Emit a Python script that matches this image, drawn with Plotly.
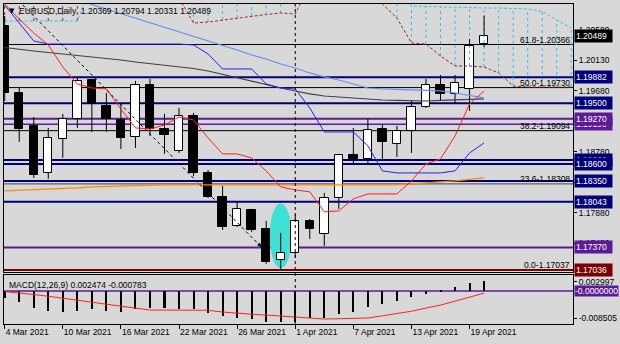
import plotly.graph_objects as go

# ---------------- data ----------------
dates = ["4 Mar 2021", "5 Mar 2021", "8 Mar 2021", "9 Mar 2021", "10 Mar 2021", "11 Mar 2021",
         "12 Mar 2021", "15 Mar 2021", "16 Mar 2021", "17 Mar 2021", "18 Mar 2021", "19 Mar 2021",
         "22 Mar 2021", "23 Mar 2021", "24 Mar 2021", "25 Mar 2021", "26 Mar 2021", "29 Mar 2021",
         "30 Mar 2021", "31 Mar 2021", "1 Apr 2021", "2 Apr 2021", "5 Apr 2021", "6 Apr 2021",
         "7 Apr 2021", "8 Apr 2021", "9 Apr 2021", "12 Apr 2021", "13 Apr 2021", "14 Apr 2021",
         "15 Apr 2021", "16 Apr 2021", "19 Apr 2021", "20 Apr 2021"]

opens = [1.20639, 1.19650, 1.19164, 1.18470, 1.18972, 1.19267, 1.19842, 1.19459, 1.19252, 1.19001,
         1.19769, 1.19119, 1.18795, 1.19311, 1.18470, 1.18116, 1.17688, 1.17924, 1.17644, 1.17187,
         1.17290, 1.17762, 1.17570, 1.18101, 1.18736, 1.18677, 1.19119, 1.18898, 1.19090, 1.19444,
         1.19769, 1.19636, 1.19710, 1.20369]
highs = [1.20787, 1.19724, 1.19296, 1.19134, 1.19341, 1.19872, 1.19857, 1.19650, 1.19488, 1.19828,
         1.19857, 1.19341, 1.19429, 1.19355, 1.18514, 1.18278, 1.18042, 1.17939, 1.17762, 1.17585,
         1.17851, 1.17791, 1.18175, 1.18751, 1.19134, 1.19267, 1.19178, 1.19164, 1.19547, 1.19857,
         1.19916, 1.19916, 1.20447, 1.20794]
lows = [1.19532, 1.18928, 1.18396, 1.18382, 1.18692, 1.19134, 1.19075, 1.19075, 1.18824, 1.18839,
        1.19016, 1.18751, 1.18765, 1.18426, 1.18101, 1.17629, 1.17673, 1.17600, 1.17127, 1.17037,
        1.17216, 1.17496, 1.17393, 1.17939, 1.18603, 1.18618, 1.18677, 1.18706, 1.18765, 1.19429,
        1.19532, 1.19503, 1.19385, 1.20331]
closes = [1.19650, 1.19119, 1.18441, 1.18987, 1.19267, 1.19828, 1.19488, 1.19267, 1.18987, 1.19769,
          1.19119, 1.19031, 1.19311, 1.18470, 1.18116, 1.17673, 1.17939, 1.17629, 1.17157, 1.17290,
          1.17762, 1.17644, 1.18101, 1.18736, 1.18677, 1.19105, 1.18928, 1.19090, 1.19444, 1.19769,
          1.19636, 1.19798, 1.20344, 1.20489]

tenkan = [1.20964, 1.20742, 1.20536, 1.20359, 1.20034, 1.19783, 1.19724, 1.19710, 1.19414, 1.19134,
          1.19119, 1.19178, 1.19296, 1.19252, 1.18987, 1.18751, 1.18751, 1.18692, 1.18500, 1.18264,
          1.18219, 1.18190, 1.17895, 1.17910, 1.18087, 1.18160, 1.18160, 1.18160, 1.18352, 1.18603,
          1.18677, 1.19016, 1.19488, 1.19680]
kijun = [1.20949, 1.20683, 1.20418, 1.20373, 1.20373, 1.20373, 1.20373, 1.20373, 1.20373, 1.20373,
         1.20373, 1.20373, 1.20373, 1.20359, 1.20226, 1.20005, 1.20005, 1.20005, 1.19783, 1.19724,
         1.19710, 1.19429, 1.19075, 1.19075, 1.19075, 1.18869, 1.18500, 1.18470, 1.18470, 1.18470,
         1.18470, 1.18500, 1.18765, 1.18913]
ma_blue = [None, None, None, None, None, 1.21023, 1.20956, 1.20882, 1.20816, 1.20757,
           1.20683, 1.20624, 1.20550, 1.20491, 1.20418, 1.20351, 1.20285, 1.20211, 1.20152, 1.20078,
           1.20019, 1.19946, 1.19887, 1.19842, 1.19783, 1.19724, 1.19710, 1.19702, 1.19695, 1.19687,
           1.19680, 1.19650, 1.19614, 1.19577]
ma_gray = [1.20322, 1.20292, 1.20270, 1.20248, 1.20226, 1.20211, 1.20182, 1.20160, 1.20137, 1.20108,
           1.20086, 1.20064, 1.20034, 1.20012, 1.19975, 1.19923, 1.19872, 1.19828, 1.19776, 1.19724,
           1.19680, 1.19636, 1.19606, 1.19591, 1.19569, 1.19555, 1.19547, 1.19540, 1.19532, 1.19532,
           1.19540, 1.19547, 1.19555, 1.19562]
ma_orange = [1.18205, 1.18212, 1.18219, 1.18227, 1.18234, 1.18249, 1.18264, 1.18271, 1.18278, 1.18286,
             1.18293, 1.18293, 1.18293, 1.18293, 1.18293, 1.18293, 1.18293, 1.18293, 1.18293, 1.18293,
             1.18293, 1.18286, 1.18286, 1.18286, 1.18286, 1.18286, 1.18286, 1.18293, 1.18308, 1.18323,
             1.18330, 1.18352, 1.18374, 1.18396]

# Ichimoku cloud spans (bars 0..39, including the 6 future bars)
span_cyan = [1.20713, 1.20713, 1.20713, 1.20713, 1.20713, 1.20713, 1.2125, 1.2125, 1.2125, 1.2125,
             1.2125, 1.2125, 1.2125, 1.2125, 1.2125, 1.2125, 1.2125, 1.2125, 1.2125, 1.2125,
             1.2125, 1.2125, 1.2125, 1.2125, 1.2125, 1.2125, 1.2125, 1.2125, 1.20934, 1.20927,
             1.20919, 1.20919, 1.20912, 1.20905, 1.20905, 1.20897, 1.20890, 1.20855, 1.20726, 1.20610]
span_brown = [1.2125, 1.2125, 1.2125, 1.2125, 1.2125, 1.2125, 1.2125, 1.2125, 1.2125, 1.2125,
              1.2125, 1.2125, 1.2105, 1.20683, 1.20698, 1.20728, 1.20757, 1.20787, 1.20809, 1.20831,
              1.20816, 1.2125, 1.2125, 1.2125, 1.2125, 1.2125, 1.20964, 1.20757, 1.20388, 1.20373,
              1.20196, 1.20049, 1.20049, 1.20034, 1.19946, 1.19754, 1.19739, 1.19739, 1.19739, 1.19739]

macd_hist = [-0.0023, -0.00357, -0.00525, -0.00619, -0.00651, -0.00619, -0.00577, -0.00619, -0.00651, -0.00577,
             -0.00546, -0.00546, -0.00567, -0.00577, -0.00703, -0.00777, -0.00840, -0.00882, -0.00966, -0.00987,
             -0.00990, -0.00860, -0.00860, -0.00724, -0.00651, -0.00493, -0.00409, -0.00304, -0.00178, -0.00094,
             -0.00010, 0.00136, 0.00241, 0.00325]
macd_signal = [-0.00016, -0.00057, -0.00107, -0.00164, -0.00220, -0.00287, -0.00350, -0.00413, -0.00479, -0.00545,
               -0.00598, -0.00598, -0.00598, -0.00598, -0.00605, -0.00661, -0.00702, -0.00731, -0.00756, -0.00787,
               -0.00813, -0.00838, -0.00882, -0.00872, -0.00860, -0.00850, -0.00781, -0.00715, -0.00636, -0.00535,
               -0.00441, -0.00318, -0.00195, -0.00063]

# horizontal levels: price, colour, width
level_prices = [1.20366, 1.19882, 1.19730, 1.19500, 1.19270, 1.19190, 1.19094, 1.18660, 1.18600,
                1.18350, 1.18308, 1.18043, 1.17370, 1.17037, 1.17036]
level_colors = ["#000000", "#00007a", "#000000", "#00007a", "#5c1a99", "#5c1a99", "#000000", "#00007a",
                "#00007a", "#00007a", "#444444", "#00007a", "#5c1a99", "#000000", "#7a0000"]
level_widths = [1, 2, 1, 2, 2, 1.5, 1, 2, 2, 2, 1, 2, 2, 1, 2]

fib_labels = ["61.8-1.20366", "50.0-1.19730", "38.2-1.19094", "23.6-1.18308", "0.0-1.17037"]
fib_prices = [1.20366, 1.19730, 1.19094, 1.18308, 1.17037]

box_prices = [1.19190, 1.18660, 1.19882, 1.19500, 1.19270, 1.18600, 1.18350, 1.18043, 1.17370, 1.17036, 1.20489]
box_texts = ["1.19190", "1.18660", "1.19882", "1.19500", "1.19270", "1.18600", "1.18350", "1.18043",
             "1.17370", "1.17036", "1.20489"]
box_colors = ["#5c1a99", "#00007a", "#00007a", "#00007a", "#5c1a99", "#00007a", "#00007a", "#00007a",
              "#5c1a99", "#7a0000", "#000000"]

price_ticks = [1.20580, 1.20130, 1.19680, 1.19230, 1.18780, 1.18330, 1.17880, 1.17430]
macd_ticks = [0.002997, -0.008505]

trend_x = [1.25, 17.66]
trend_y = [1.20949, 1.17378]
vline_idx = 20
highlight_idx = 19
highlight_lo, highlight_hi = 1.17069, 1.18013

title_text = "EURUSD,Daily  1.20369 1.20794 1.20331 1.20489"
macd_text = "MACD(12,26,9) 0.002474 -0.000783"

# ---------------- figure ----------------
FONT = "Liberation Sans, Arial, sans-serif"
BG = "#d8d8d8"
n = len(closes)
idx = list(range(n))
fidx = list(range(len(span_cyan)))

fig = go.Figure()

# cloud hatches
hx_c, hy_c, hx_b, hy_b = [], [], [], []
for i in fidx:
    a, b = span_cyan[i], span_brown[i]
    if a >= b:
        hx_c += [i, i, None]; hy_c += [b, a, None]
    else:
        hx_b += [i, i, None]; hy_b += [a, b, None]
fig.add_trace(go.Scatter(x=hx_c, y=hy_c, mode="lines", line=dict(color="#2fc6e6", width=1, dash="dot"),
                         hoverinfo="skip", showlegend=False))
fig.add_trace(go.Scatter(x=hx_b, y=hy_b, mode="lines", line=dict(color="#9a2b2b", width=1, dash="dot"),
                         hoverinfo="skip", showlegend=False))
fig.add_trace(go.Scatter(x=fidx, y=span_cyan, mode="lines", line=dict(color="#2fc6e6", width=1, dash="3px,2px"),
                         hoverinfo="skip", showlegend=False))
fig.add_trace(go.Scatter(x=fidx, y=span_brown, mode="lines", line=dict(color="#9a2b2b", width=1, dash="3px,2px"),
                         hoverinfo="skip", showlegend=False))

# candle bodies
bases = [min(o, c) for o, c in zip(opens, closes)]
heights = [max(abs(c - o), 0.00003) for o, c in zip(opens, closes)]
colors = ["#ffffff" if c >= o else "#000000" for o, c in zip(opens, closes)]
fig.add_trace(go.Bar(x=idx, y=heights, base=bases, width=0.58,
                     marker=dict(color=colors, line=dict(color="#000000", width=1)),
                     hoverinfo="skip", showlegend=False))
# wicks
wx, wy = [], []
for i in idx:
    top, bot = max(opens[i], closes[i]), min(opens[i], closes[i])
    wx += [i, i, None, i, i, None]
    wy += [highs[i], top, None, bot, lows[i], None]
fig.add_trace(go.Scatter(x=wx, y=wy, mode="lines", line=dict(color="#000000", width=1),
                         hoverinfo="skip", showlegend=False))

# moving averages / ichimoku lines
fig.add_trace(go.Scatter(x=idx, y=ma_orange, mode="lines", line=dict(color="#ff8c00", width=1.2),
                         hoverinfo="skip", showlegend=False))
fig.add_trace(go.Scatter(x=idx, y=ma_gray, mode="lines", line=dict(color="#404040", width=1.2),
                         hoverinfo="skip", showlegend=False))
fig.add_trace(go.Scatter(x=idx, y=ma_blue, mode="lines", line=dict(color="#6b8ff0", width=1.2),
                         hoverinfo="skip", showlegend=False))
fig.add_trace(go.Scatter(x=idx, y=kijun, mode="lines", line=dict(color="#2020ff", width=1),
                         hoverinfo="skip", showlegend=False))
fig.add_trace(go.Scatter(x=idx, y=tenkan, mode="lines", line=dict(color="#ff2020", width=1),
                         hoverinfo="skip", showlegend=False))
# trend line
fig.add_trace(go.Scatter(x=trend_x, y=trend_y, mode="lines", line=dict(color="#000000", width=1, dash="3px,3px"),
                         hoverinfo="skip", showlegend=False))

# MACD
fig.add_trace(go.Bar(x=idx, y=macd_hist, width=0.14, marker=dict(color="#000000", line=dict(width=0)),
                     xaxis="x2", yaxis="y2", hoverinfo="skip", showlegend=False))
fig.add_trace(go.Scatter(x=idx, y=macd_signal, mode="lines", line=dict(color="#ff2020", width=1),
                         xaxis="x2", yaxis="y2", hoverinfo="skip", showlegend=False))

shapes = []
for p, c, w in zip(level_prices, level_colors, level_widths):
    shapes.append(dict(type="line", xref="paper", x0=0, x1=1, yref="y", y0=p, y1=p,
                       line=dict(color=c, width=w), layer="below"))
shapes.append(dict(type="line", xref="paper", x0=0, x1=1, yref="y2", y0=0, y1=0,
                   line=dict(color="#5c1a99", width=1.5), layer="below"))
shapes.append(dict(type="circle", xref="x", yref="y", x0=highlight_idx - 0.72, x1=highlight_idx + 0.72,
                   y0=highlight_lo, y1=highlight_hi, fillcolor="#3fe0d6", line=dict(color="#3fe0d6", width=1),
                   layer="below"))
shapes.append(dict(type="line", xref="x", x0=vline_idx, x1=vline_idx, yref="paper", y0=0, y1=1,
                   line=dict(color="#000000", width=1, dash="dot")))

annotations = []
annotations.append(dict(xref="x", yref="y", x=trend_x[1], y=trend_y[1], ax=trend_x[1] - 0.3, ay=trend_y[1] + 0.0007,
                        axref="x", ayref="y", showarrow=True, arrowhead=2, arrowsize=0.8, arrowwidth=1,
                        arrowcolor="#000000", text=""))
for t, p in zip(fib_labels, fib_prices):
    annotations.append(dict(xref="paper", x=1, xanchor="right", xshift=-1, yref="y", y=p, yanchor="bottom",
                            yshift=-2, text=t, showarrow=False, font=dict(family=FONT, size=8.5, color="#000000")))
for p, t, c in zip(box_prices, box_texts, box_colors):
    annotations.append(dict(xref="paper", x=1, xanchor="left", xshift=1, yref="y", y=p, yanchor="middle",
                            text=t + "  ", showarrow=False, bgcolor=c, borderpad=1,
                            font=dict(family=FONT, size=8.5, color="#ffffff")))
annotations.append(dict(xref="paper", x=1, xanchor="left", xshift=4, yref="y", y=1.16970, yanchor="middle",
                        text="1.16970", showarrow=False, font=dict(family=FONT, size=8.5, color="#000000")))
annotations.append(dict(xref="paper", x=1, xanchor="left", xshift=1, yref="y2", y=0, yanchor="middle",
                        text="-0.0000000", showarrow=False, bgcolor="#5c1a99", borderpad=0,
                        font=dict(family=FONT, size=8.5, color="#ffffff")))
annotations.append(dict(xref="paper", x=0, xanchor="left", xshift=3, yref="paper", y=1, yanchor="top", yshift=-1,
                        text="▼", showarrow=False, font=dict(family="DejaVu Sans", size=7, color="#000000")))
annotations.append(dict(xref="paper", x=0, xanchor="left", xshift=13, yref="paper", y=1, yanchor="top", yshift=0,
                        text=title_text, showarrow=False, font=dict(family=FONT, size=8.5, color="#000000")))
annotations.append(dict(xref="paper", x=0, xanchor="left", xshift=3, yref="paper", y=0.1526, yanchor="top",
                        yshift=-3, text=macd_text, showarrow=False, font=dict(family=FONT, size=8.5, color="#000000")))

xr = [-0.048, 39.12]
fig.update_layout(
    width=620, height=344, margin=dict(l=3, r=42, t=3, b=20),
    paper_bgcolor=BG, plot_bgcolor=BG, showlegend=False, bargap=0,
    shapes=shapes, annotations=annotations,
    font=dict(family=FONT, size=8.5, color="#000000"),
    xaxis=dict(domain=[0, 1], range=xr, anchor="y", showticklabels=False, showgrid=False, zeroline=False,
               showline=True, mirror=True, linecolor="#000000", linewidth=1, ticks=""),
    yaxis=dict(domain=[0.162, 1], range=[1.17005, 1.20964], side="right", showgrid=False, zeroline=False,
               showline=True, mirror=True, linecolor="#000000", linewidth=1,
               tickvals=price_ticks, ticktext=["%.5f" % v for v in price_ticks],
               ticks="outside", ticklen=3, tickcolor="#000000", tickfont=dict(family=FONT, size=8.5)),
    xaxis2=dict(domain=[0, 1], range=xr, anchor="y2", matches="x", showgrid=False, zeroline=False,
                showline=True, mirror=True, linecolor="#000000", linewidth=1,
                tickvals=list(range(0, n, 4)), ticktext=[dates[i] for i in range(0, n, 4)],
                ticks="outside", ticklen=4, tickcolor="#000000", ticklabelposition="outside right",
                tickfont=dict(family=FONT, size=8.5)),
    yaxis2=dict(domain=[0, 0.1526], range=[-0.01039, 0.00504], side="right", anchor="x2", showgrid=False,
                zeroline=False, showline=True, mirror=True, linecolor="#000000", linewidth=1,
                tickvals=macd_ticks, ticktext=["0.002997", "-0.008505"],
                ticks="outside", ticklen=3, tickcolor="#000000", tickfont=dict(family=FONT, size=8.5)),
)

fig.write_html("out.html")
